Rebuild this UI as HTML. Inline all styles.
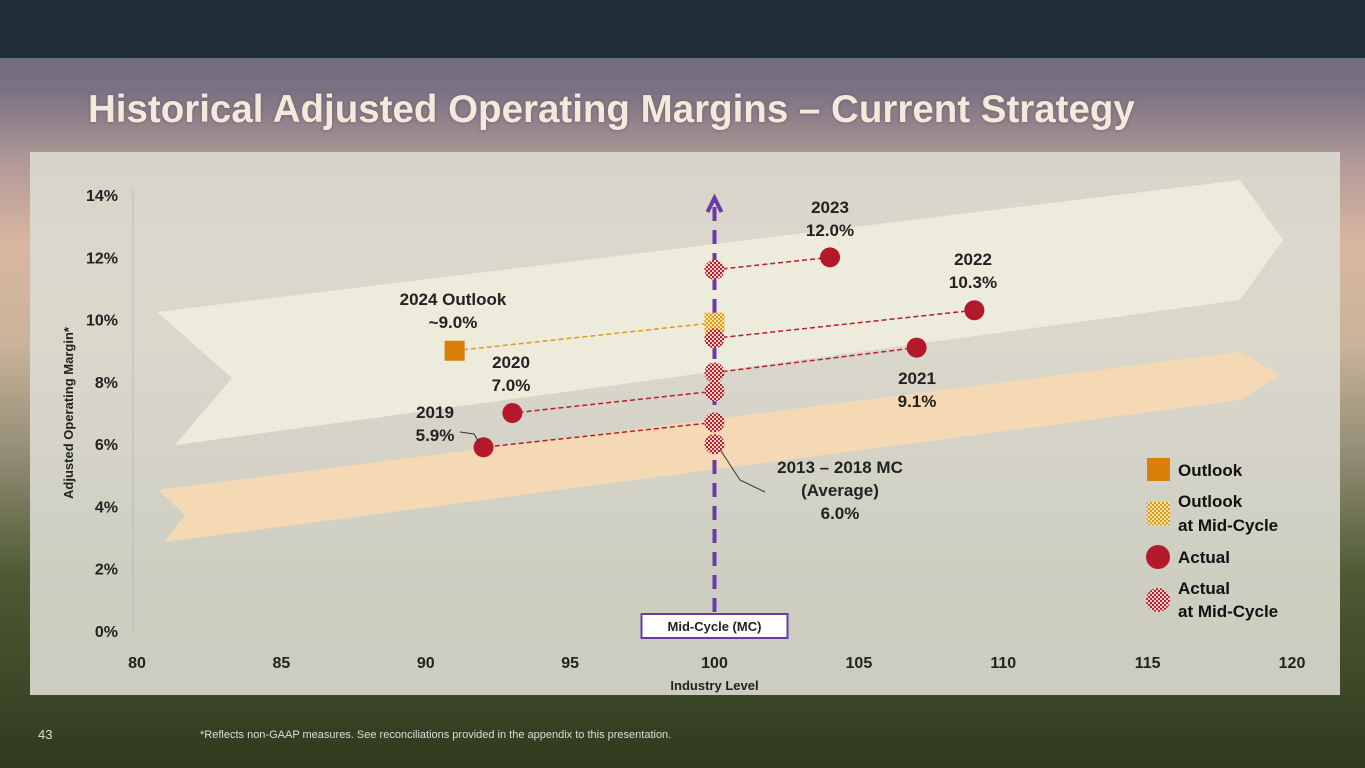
<!DOCTYPE html>
<html><head><meta charset="utf-8"><style>
body{margin:0;width:1365px;height:768px;overflow:hidden;font-family:"Liberation Sans",sans-serif;}
#bg{position:absolute;left:0;top:0;width:1365px;height:768px;background:linear-gradient(180deg,#5a5e72 0%,#7b7384 12%,#b59c98 22%,#d9b7a0 32%,#c9b39a 45%,#8f8a72 60%,#4e5a34 75%,#2f3a1e 100%);}
#topbar{position:absolute;left:0;top:0;width:1365px;height:58px;background:#1e2d36;}
#title{position:absolute;left:88px;top:88px;font-size:38.5px;font-weight:bold;color:#f3e9dc;text-shadow:0 0 3px #6b5a60;}
#panel{position:absolute;left:30px;top:152px;width:1310px;height:543px;background:rgba(220,218,208,0.9);}
.t{font-family:"Liberation Sans",sans-serif;}
#foot{position:absolute;left:200px;top:729px;font-size:11px;color:#ddd;}
#pg{position:absolute;left:38px;top:727px;font-size:13px;color:#ddd;}
</style></head><body>
<div id="bg"></div>
<div id="topbar"></div>
<div id="title">Historical Adjusted Operating Margins – Current Strategy</div>
<div id="panel"></div>
<svg id="chart" width="1365" height="768" style="position:absolute;left:0;top:0">
<defs>
<pattern id="chk" width="4" height="4" patternUnits="userSpaceOnUse"><rect width="4" height="4" fill="#f2d0c8"/><rect width="2" height="2" fill="#b3202e"/><rect x="2" y="2" width="2" height="2" fill="#b3202e"/></pattern>
<pattern id="chko" width="4" height="4" patternUnits="userSpaceOnUse"><rect width="4" height="4" fill="#f7e2a0"/><rect width="2" height="2" fill="#e09a20"/><rect x="2" y="2" width="2" height="2" fill="#e09a20"/></pattern>
</defs>
<polygon points="157,312 1240,180 1283,240 1240,300 175,445 232,378" fill="#ecebdc"/>
<polygon points="158,490 1240,352 1280,375 1240,400 165,542 185,515" fill="#f5d9b5"/>
<g id="axes"></g>
<g id="marks"></g>
</svg>
<div id="pg">43</div>
<div id="foot">*Reflects non-GAAP measures. See reconciliations provided in the appendix to this presentation.</div>
<script>
const xTicks=[80,85,90,95,100,105,110,115,120];
const yTicks=[0,2,4,6,8,10,12,14];
const actualYears=["2019","2020","2021","2022","2023"];
const actualX=[92,93,107,109,104];
const actualY=[5.9,7.0,9.1,10.3,12.0];
const midCycleY=[6.7,7.7,8.3,9.4,11.6];
const mcAverageY=[6.0];
const outlookX=[91];
const outlookY=[9.0];
const outlookMidY=[9.9];
const NS="http://www.w3.org/2000/svg";
const X=v=>137+(v-80)*28.875, Y=v=>631-v*31.14;
function mk(tag,attrs,parent){const e=document.createElementNS(NS,tag);for(const k in attrs)e.setAttribute(k,attrs[k]);parent.appendChild(e);return e;}
const ax=document.getElementById('axes'),mr=document.getElementById('marks');
let l=mk('line',{x1:133,y1:Y(14)-5,x2:133,y2:631,stroke:'#bbb'},ax);


xTicks.forEach(v=>{const t=mk('text',{x:X(v),y:668,'text-anchor':'middle','font-size':16,'font-weight':'bold',fill:'#222',class:'t'},ax);t.textContent=v;

});
yTicks.forEach(v=>{const t=mk('text',{x:118,y:Y(v)+6,'text-anchor':'end','font-size':16,'font-weight':'bold',fill:'#222',class:'t'},ax);t.textContent=v+'%';

});
let xt=mk('text',{x:X(100),y:690,'text-anchor':'middle','font-size':13,'font-weight':'bold',fill:'#222',class:'t'},ax);xt.textContent='Industry Level';


let yt=mk('text',{x:73,y:413,'text-anchor':'middle','font-size':13,'font-weight':'bold',fill:'#222',transform:'rotate(-90 73 413)',class:'t'},ax);yt.textContent='Adjusted Operating Margin*';


let mc=mk('line',{x1:X(100),y1:612,x2:X(100),y2:205,stroke:'#6a3aa8','stroke-width':4,'stroke-dasharray':'14 9'},mr);


let ah=mk('polyline',{points:`${X(100)-7},212 ${X(100)},198 ${X(100)+7},212`,fill:'none',stroke:'#6a3aa8','stroke-width':4},mr);


let mb=mk('rect',{x:X(100)-73,y:614,width:146,height:24,fill:'#fff',stroke:'#6a3aa8','stroke-width':2},mr);


let mt=mk('text',{x:X(100),y:631,'text-anchor':'middle','font-size':13,'font-weight':'bold',fill:'#222',class:'t'},mr);mt.textContent='Mid-Cycle (MC)';


actualX.forEach((x,i)=>{let c=mk('line',{x1:X(100),y1:Y(midCycleY[i]),x2:X(x),y2:Y(actualY[i]),stroke:'#b3202e','stroke-width':1.5,'stroke-dasharray':'5 3'},mr);

});
let oc=mk('line',{x1:X(100),y1:Y(outlookMidY[0]),x2:X(outlookX[0]),y2:Y(outlookY[0]),stroke:'#e09a20','stroke-width':1.5,'stroke-dasharray':'5 3'},mr);


let om=mk('rect',{x:X(100)-10,y:Y(outlookMidY[0])-10,width:20,height:20,fill:'url(#chko)'},mr);


mcAverageY.concat(midCycleY).forEach(v=>{let c=mk('circle',{cx:X(100),cy:Y(v),r:10,fill:'url(#chk)'},mr);

});
actualX.forEach((x,i)=>{let c=mk('circle',{cx:X(x),cy:Y(actualY[i]),r:10,fill:'#b3192b'},mr);

});
let os=mk('rect',{x:X(outlookX[0])-10,y:Y(outlookY[0])-10,width:20,height:20,fill:'#d97f0a'},mr);


function lbl(lines,x,y,name){lines.forEach((s,j)=>{let t=mk('text',{x:x,y:y+j*23,'text-anchor':'middle','font-size':17,'font-weight':'bold',fill:'#222',class:'t'},mr);t.textContent=s;

});}
const labPos=[[435,418],[511,368],[917,384],[973,265],[830,213]];
actualX.forEach((x,i)=>lbl([actualYears[i],actualY[i].toFixed(1)+'%'],labPos[i][0],labPos[i][1],'label-'+actualYears[i]));
lbl(['2024 Outlook','~'+outlookY[0].toFixed(1)+'%'],453,305,'label-2024-outlook');
lbl(['2013 – 2018 MC','(Average)',mcAverageY[0].toFixed(1)+'%'],840,473,'label-mc-average');
let p=mk('polyline',{points:`${X(100)+6},${Y(mcAverageY[0])+6} 740,480 765,492`,fill:'none',stroke:'#333','stroke-width':1},mr);


let p2=mk('polyline',{points:`460,432 474,434 ${X(actualX[0])-4},${Y(actualY[0])-4}`,fill:'none',stroke:'#333','stroke-width':1},mr);


const lg=mk('g',{},mr);


let a=mk('rect',{x:1147,y:458,width:23,height:23,fill:'#d97f0a'},lg);
let b=mk('rect',{x:1147,y:502,width:23,height:23,fill:'url(#chko)'},lg);
let c=mk('circle',{cx:1158,cy:557,r:12,fill:'#b3192b'},lg);
let d=mk('circle',{cx:1158,cy:600,r:12,fill:'url(#chk)'},lg);
[['Outlook',476],['Outlook',507],['at Mid-Cycle',531],['Actual',563],['Actual',594],['at Mid-Cycle',617]].forEach(s=>{let t=mk('text',{x:1178,y:s[1],'font-size':17,'font-weight':'bold',fill:'#111',class:'t'},lg);t.textContent=s[0];

});
</script>
</body></html>
